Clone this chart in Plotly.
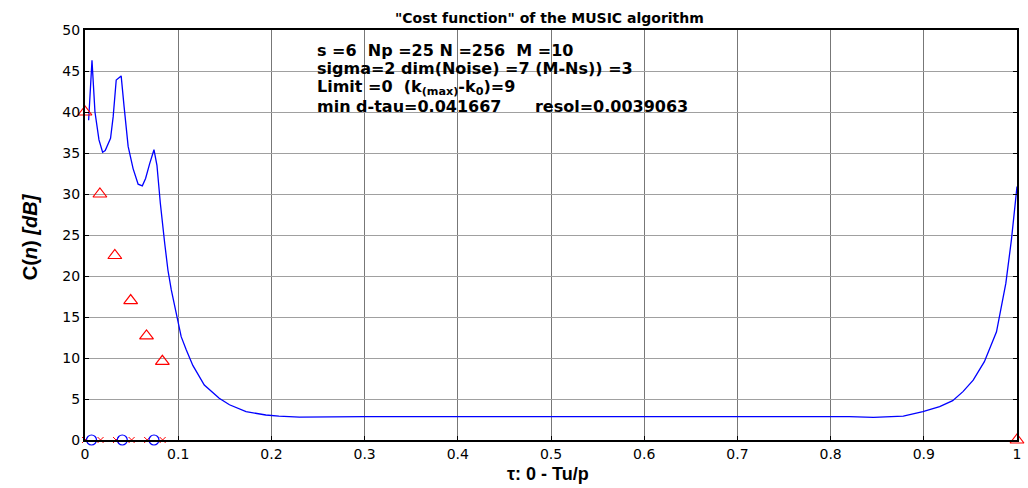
import plotly.graph_objects as go

# Cost function curve (tau, C(n) in dB)
tau = [0.0039, 0.0075, 0.0107, 0.015, 0.0189, 0.0217, 0.0274, 0.0302, 0.0335, 0.0388,
       0.042, 0.0463, 0.0516, 0.057, 0.0615, 0.065, 0.0694, 0.074, 0.0772, 0.0808,
       0.0855, 0.089, 0.0926, 0.098, 0.1032, 0.1086, 0.1157, 0.128, 0.144, 0.155,
       0.1728, 0.194, 0.208, 0.23, 0.26, 0.29, 0.3, 0.4, 0.5, 0.6, 0.7, 0.78, 0.82,
       0.846, 0.878, 0.899, 0.917, 0.931, 0.942, 0.953, 0.965, 0.978, 0.988, 0.994, 1.0]
cost = [39.0, 46.3, 40.0, 36.6, 35.1, 35.3, 36.8, 39.4, 43.9, 44.4,
        40.6, 35.8, 33.1, 31.2, 31.0, 31.9, 33.7, 35.4, 33.5, 28.9,
        24.0, 20.7, 18.3, 15.4, 12.6, 11.0, 9.1, 6.7, 5.1, 4.3,
        3.45, 3.05, 2.9, 2.8, 2.85, 2.85, 2.85, 2.85, 2.85, 2.85, 2.85, 2.9, 2.85,
        2.75, 2.9, 3.45, 4.07, 4.8, 5.9, 7.3, 9.55, 13.2, 19.1, 24.4, 30.9]

# True path delays / amplitudes (red triangles)
path_tau = [0.0, 0.016, 0.032, 0.049, 0.066, 0.083, 1.0]
path_amp = [40.0, 30.0, 22.5, 17.0, 12.7, 9.6, 0.0]

# True delays on the axis (red x)
true_tau = [0.0, 0.0167, 0.0333, 0.05, 0.0667, 0.0833]
true_zero = [0, 0, 0, 0, 0, 0]

# Estimated delays (blue circles)
est_tau = [0.007, 0.040, 0.074]
est_zero = [0, 0, 0]

xticks = [0, 0.1, 0.2, 0.3, 0.4, 0.5, 0.6, 0.7, 0.8, 0.9, 1]
xticklabels = ["0", "0.1", "0.2", "0.3", "0.4", "0.5", "0.6", "0.7", "0.8", "0.9", "1"]
yticks = [0, 5, 10, 15, 20, 25, 30, 35, 40, 45, 50]

fig = go.Figure()
fig.add_trace(go.Scatter(x=tau, y=cost, mode="lines",
                         line=dict(color="#0000ff", width=1.3), cliponaxis=False))
fig.add_trace(go.Scatter(x=true_tau, y=true_zero, mode="markers",
                         marker=dict(symbol="x-thin-open", size=6, color="#ff0000",
                                     line=dict(color="#ff0000", width=1)),
                         cliponaxis=False))
fig.add_trace(go.Scatter(x=est_tau, y=est_zero, mode="markers",
                         marker=dict(symbol="circle-open", size=10, color="#0000ff",
                                     line=dict(color="#0000ff", width=1.2)),
                         cliponaxis=False))
fig.add_trace(go.Scatter(x=path_tau, y=path_amp, mode="markers",
                         marker=dict(symbol="triangle-up-open", size=12, color="#ff0000",
                                     line=dict(color="#ff0000", width=1.2)),
                         cliponaxis=False))

L, R, T, B = 85, 7, 30, 48
W, H = 1028, 488
pw, ph = W - L - R, H - T - B

def px(x):
    return (x - L) / pw

def py(y):
    return (H - B - y) / ph

font = "Liberation Sans, Arial, sans-serif"
wide = "DejaVu Sans, Verdana, sans-serif"
ann = []
ann.append(dict(text="<b>\"Cost function\" of the MUSIC algorithm</b>", x=px(551), y=py(18),
                xref="paper", yref="paper", showarrow=False, xanchor="center", yanchor="middle",
                font=dict(size=14, color="black", family=wide)))
ann.append(dict(text="<b>τ: 0 - Tu/p</b>", x=px(550), y=py(474),
                xref="paper", yref="paper", showarrow=False, xanchor="center", yanchor="middle",
                font=dict(size=18, color="black", family=font)))
ann.append(dict(text="<b>C(<i>n</i>) <i>[dB]</i></b>", x=px(30), y=py(237),
                xref="paper", yref="paper", showarrow=False, xanchor="center", yanchor="middle",
                textangle=-90, font=dict(size=20, color="black", family=font)))
lines = [
    ("<b>s =6  Np =25 N =256  M =10</b>", 50),
    ("<b>sigma=2 dim(Noise) =7 (M-Ns)) =3</b>", 69),
    ("<b>Limit =0  (k<sub>(max)</sub>-k<sub>0</sub>)=9</b>", 87),
    ("<b>min d-tau=0.041667      resol=0.0039063</b>", 107),
]
for t, yy in lines:
    ann.append(dict(text=t, x=px(316), y=py(yy), xref="paper", yref="paper",
                    showarrow=False, xanchor="left", yanchor="middle",
                    font=dict(size=16, color="black", family=wide)))

fig.update_layout(
    width=W, height=H,
    margin=dict(l=L, r=R, t=T, b=B),
    paper_bgcolor="white", plot_bgcolor="white",
    showlegend=False,
    annotations=ann,
    xaxis=dict(range=[0, 1], tickvals=xticks, ticktext=xticklabels,
               showgrid=True, gridcolor="#777777", gridwidth=1,
               showline=True, linecolor="black", linewidth=2, mirror=True,
               ticks="inside", ticklen=4, tickcolor="black",
               zeroline=False, tickfont=dict(size=14, family=wide, color="black")),
    yaxis=dict(range=[0, 50], tickvals=yticks,
               showgrid=True, gridcolor="#a0a0a0", gridwidth=1,
               showline=True, linecolor="black", linewidth=2, mirror="allticks",
               ticks="inside", ticklen=4, tickcolor="black",
               zeroline=False, tickfont=dict(size=14, family=wide, color="black")),
)

fig.write_html("out.html")
